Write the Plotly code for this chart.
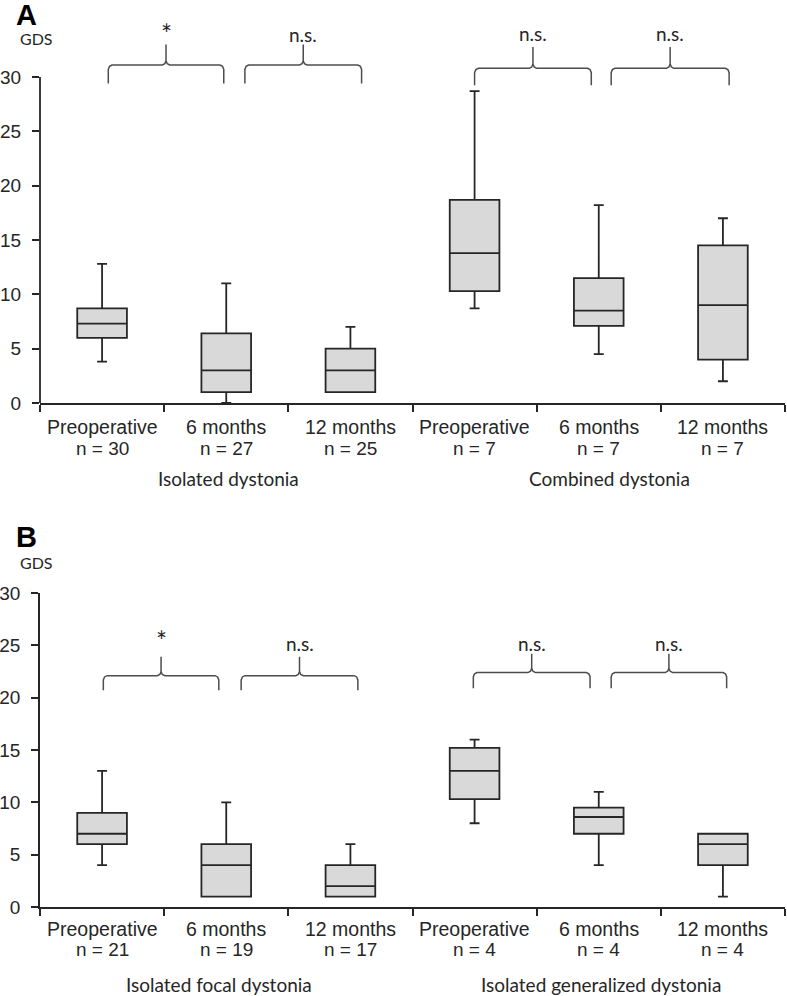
import plotly.graph_objects as go

# ---------------- data ----------------
categories = ["Preoperative", "6 months", "12 months", "Preoperative", "6 months", "12 months"]
positions = [0, 1, 2, 3, 4, 5]

A_n = [30, 27, 25, 7, 7, 7]
A_groups = ["Isolated dystonia", "Combined dystonia"]
A_low = [3.8, 0, 1, 8.7, 4.5, 2]
A_q1 = [6, 1, 1, 10.3, 7.1, 4]
A_med = [7.3, 3, 3, 13.8, 8.5, 9]
A_q3 = [8.7, 6.4, 5, 18.7, 11.5, 14.5]
A_high = [12.8, 11, 7, 28.7, 18.2, 17]
A_sig = ["*", "n.s.", "n.s.", "n.s."]

B_n = [21, 19, 17, 4, 4, 4]
B_groups = ["Isolated focal dystonia", "Isolated generalized dystonia"]
B_low = [4, 1, 1, 8, 4, 1]
B_q1 = [6, 1, 1, 10.3, 7, 4]
B_med = [7, 4, 2, 13, 8.6, 6]
B_q3 = [9, 6, 4, 15.2, 9.5, 7]
B_high = [13, 10, 6, 16, 11, 7]
B_sig = ["*", "n.s.", "n.s.", "n.s."]

y_ticks = [0, 5, 10, 15, 20, 25, 30]

# ---------------- layout constants ----------------
W, H = 787, 996
BOX_LINE = "#262626"
BOX_FILL = "#d9d9d9"
BRACE_COL = "#4d4d4d"
TXT = "#262626"
ARIAL = "Liberation Sans, Arial, sans-serif"
CAL = "Lato, Carlito, Calibri, sans-serif"
LW = 1.8

def py(px):
    return 1 - px / H

x_dom = [40 / W, 785 / W]
A_range = [0, 35.5]
A_dom = [py(403), py(403 - 35.5 * 10.867)]
B_range = [0, 30]
B_dom = [py(907), py(593)]

fig = go.Figure()

def add_boxes(xa, ya, low, q1, med, q3, high):
    fig.add_trace(go.Box(
        x=positions, q1=q1, median=med, q3=q3, lowerfence=low, upperfence=high,
        width=0.4, whiskerwidth=0.2, fillcolor=BOX_FILL,
        line=dict(color=BOX_LINE, width=LW), boxpoints=False,
        xaxis=xa, yaxis=ya, showlegend=False, hoverinfo="skip"))

add_boxes("x", "y", A_low, A_q1, A_med, A_q3, A_high)
add_boxes("x2", "y2", B_low, B_q1, B_med, B_q3, B_high)

def brace(xa, ya, x0, x1, yh, yend, ytop, dy):
    xc = (x0 + x1) / 2
    xs = [x0, x0, x0 + 0.01, x0 + 0.03, xc - 0.03, xc - 0.01, xc, xc,
          xc, xc + 0.01, xc + 0.03, x1 - 0.03, x1 - 0.01, x1, x1]
    ys = [yend, yh - dy, yh - dy * 0.3, yh, yh, yh + dy * 0.3, yh + dy, ytop,
          yh + dy, yh + dy * 0.3, yh, yh, yh - dy * 0.3, yh - dy, yend]
    fig.add_trace(go.Scatter(x=xs, y=ys, mode="lines", xaxis=xa, yaxis=ya,
                             line=dict(color=BRACE_COL, width=1.5),
                             showlegend=False, hoverinfo="skip"))
    return xc

# Brace geometry (in category units / GDS units)
A_bx0 = [0.05, 1.15, 3.0, 4.1]
A_bx1 = [0.98, 2.09, 3.94, 5.05]
A_byh = [31.1, 31.1, 30.8, 30.8]
A_byend = [29.4, 29.4, 29.25, 29.25]
A_bytop = [33.0, 33.0, 32.75, 32.75]
A_sigy = [34.0, 33.9, 34.0, 34.0]

B_bx0 = [0.01, 1.12, 2.99, 4.1]
B_bx1 = [0.94, 2.06, 3.93, 5.03]
B_byh = [22.1, 22.1, 22.4, 22.4]
B_byend = [20.7, 20.7, 20.9, 20.9]
B_bytop = [23.9, 23.9, 24.2, 24.2]
B_sigy = [25.4, 25.2, 25.2, 25.2]

def sig_font(t):
    return dict(family=CAL, size=26 if t == "*" else 19, color=TXT)

annotations = []
for i in range(4):
    xc = brace("x", "y", A_bx0[i], A_bx1[i], A_byh[i], A_byend[i], A_bytop[i], 0.4)
    annotations.append(dict(x=xc, y=A_sigy[i], xref="x", yref="y", text=A_sig[i],
                            showarrow=False, font=sig_font(A_sig[i])))
    xc = brace("x2", "y2", B_bx0[i], B_bx1[i], B_byh[i], B_byend[i], B_bytop[i], 0.4)
    annotations.append(dict(x=xc, y=B_sigy[i], xref="x2", yref="y2", text=B_sig[i],
                            showarrow=False, font=sig_font(B_sig[i])))

# Category and n labels
def cat_labels(xref, n, y_cat, y_n):
    for i, p in enumerate(positions):
        annotations.append(dict(x=p, y=py(y_cat), xref=xref, yref="paper", text=categories[i],
                                showarrow=False, yanchor="middle", xanchor="center",
                                font=dict(family=ARIAL, size=19.5, color=TXT)))
        annotations.append(dict(x=p, y=py(y_n), xref=xref, yref="paper", text=f"n = {n[i]}",
                                showarrow=False, yanchor="middle", xanchor="center",
                                font=dict(family=ARIAL, size=19, color=TXT)))

cat_labels("x", A_n, 427, 448)
cat_labels("x2", B_n, 929, 949)

A_gx = [1.02, 4.09]
B_gx = [0.94, 4.02]
for g, gx in zip(A_groups, A_gx):
    annotations.append(dict(x=gx, y=py(478), xref="x", yref="paper", text=g, showarrow=False,
                            yanchor="middle", xanchor="center",
                            font=dict(family=CAL, size=19, color=TXT)))
for g, gx in zip(B_groups, B_gx):
    annotations.append(dict(x=gx, y=py(984), xref="x2", yref="paper", text=g, showarrow=False,
                            yanchor="middle", xanchor="center",
                            font=dict(family=CAL, size=19, color=TXT)))

# Panel letters and GDS
for letter, yy in [("A", 15), ("B", 537)]:
    annotations.append(dict(x=26 / W, y=py(yy), xref="paper", yref="paper", text=f"<b>{letter}</b>",
                            showarrow=False, yanchor="middle", xanchor="center",
                            font=dict(family=ARIAL, size=29, color="#000")))
for yy in [38, 562]:
    annotations.append(dict(x=36 / W, y=py(yy), xref="paper", yref="paper", text="GDS",
                            showarrow=False, yanchor="middle", xanchor="center",
                            font=dict(family=CAL, size=16, color=TXT)))

# y axis line for panel A (stops at 30)
shapes = [dict(type="line", xref="x domain", yref="y domain", x0=0, x1=0,
               y0=0, y1=30 / A_range[1], line=dict(color=BOX_LINE, width=LW))]

xaxis_common = dict(range=[-0.5, 5.5], tickvals=[-0.5, 0.5, 1.5, 2.5, 3.5, 4.5, 5.5],
                    ticktext=[""] * 7, ticks="outside", ticklen=7, tickwidth=LW,
                    tickcolor=BOX_LINE, showline=True, linecolor=BOX_LINE, linewidth=LW,
                    showgrid=False, zeroline=False, domain=x_dom, fixedrange=True,
                    automargin=False)
yaxis_common = dict(tickvals=y_ticks, ticks="outside", ticklen=7, tickwidth=LW,
                    tickcolor=BOX_LINE, showgrid=False, zeroline=False,
                    ticklabelstandoff=7, automargin=False,
                    tickfont=dict(family=ARIAL, size=19, color=TXT), fixedrange=True)

fig.update_layout(
    width=W, height=H, margin=dict(l=0, r=0, t=0, b=0),
    paper_bgcolor="white", plot_bgcolor="white", hovermode=False,
    xaxis=dict(**xaxis_common, anchor="y"),
    yaxis=dict(**yaxis_common, range=A_range, domain=A_dom, anchor="x", showline=False),
    xaxis2=dict(**xaxis_common, anchor="y2"),
    yaxis2=dict(**yaxis_common, range=B_range, domain=B_dom, anchor="x2", showline=True,
                linecolor=BOX_LINE, linewidth=LW),
    annotations=annotations, shapes=shapes,
)

fig.write_html("out.html", config={"displayModeBar": False},
               post_script="document.body.style.margin='0';document.body.style.overflow='hidden';")
